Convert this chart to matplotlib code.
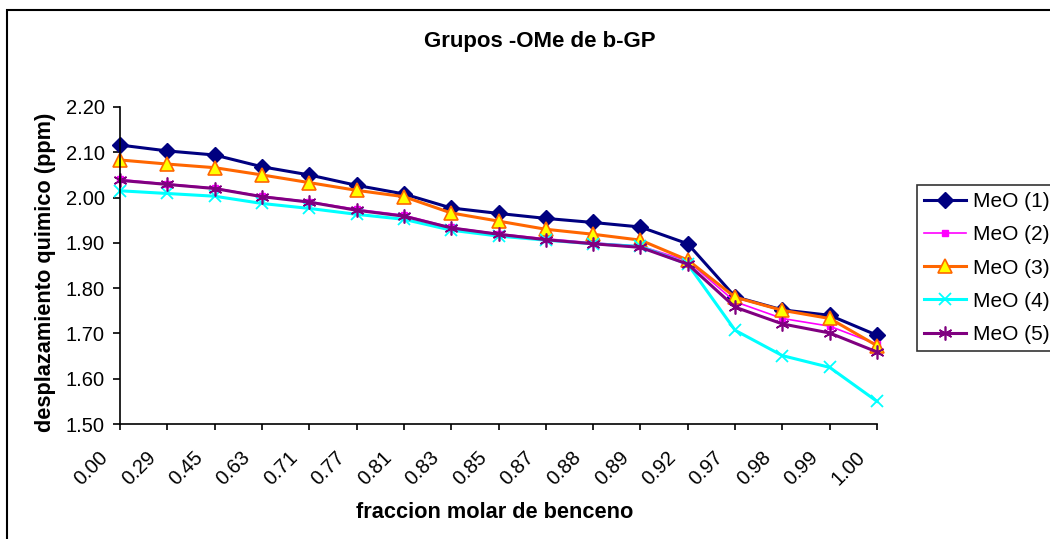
import matplotlib
matplotlib.use("Agg")
import matplotlib.pyplot as plt
from matplotlib.patches import Rectangle
from matplotlib.transforms import ScaledTranslation

plt.rcParams['font.family'] = ['Liberation Sans', 'DejaVu Sans']

# fracciones molares de benceno (categorias)
categorias = ['0.00', '0.29', '0.45', '0.63', '0.71', '0.77', '0.81', '0.83', '0.85',
              '0.87', '0.88', '0.89', '0.92', '0.97', '0.98', '0.99', '1.00']

meo1 = [2.116, 2.103, 2.094, 2.068, 2.050, 2.027, 2.008, 1.977, 1.965,
        1.954, 1.945, 1.935, 1.898, 1.781, 1.752, 1.740, 1.696]
meo2 = [2.040, 2.030, 2.021, 2.003, 1.991, 1.974, 1.961, 1.934, 1.920,
        1.909, 1.900, 1.893, 1.860, 1.770, 1.733, 1.716, 1.676]
meo3 = [2.083, 2.074, 2.066, 2.050, 2.033, 2.016, 2.002, 1.966, 1.948,
        1.930, 1.919, 1.906, 1.862, 1.780, 1.751, 1.733, 1.673]
meo4 = [2.015, 2.009, 2.003, 1.987, 1.976, 1.963, 1.952, 1.928, 1.915,
        1.906, 1.898, 1.892, 1.853, 1.707, 1.651, 1.625, 1.550]
meo5 = [2.038, 2.029, 2.020, 2.002, 1.990, 1.972, 1.959, 1.933, 1.919,
        1.907, 1.898, 1.890, 1.853, 1.758, 1.721, 1.701, 1.659]

W, H = 1050, 539
fig = plt.figure(figsize=(W / 100, H / 100), dpi=100)
ax = fig.add_axes([120 / W, 1 - 424 / H, 757 / W, 317 / H])

x = list(range(len(categorias)))
ax.plot(x, meo1, color='#000080', lw=2.2, marker='D', ms=8.5,
        mfc='#000080', mec='#000080', label='MeO (1)', clip_on=False)
ax.plot(x, meo2, color='#FF00FF', lw=1.2, marker='s', ms=5,
        mfc='#FF00FF', mec='#FF00FF', label='MeO (2)', clip_on=False)
ax.plot(x, meo3, color='#FF6600', lw=2.2, marker='^', ms=10,
        mfc='#FFFF00', mec='#FF6600', mew=1.2, label='MeO (3)', clip_on=False)
ax.plot(x, meo4, color='#00FFFF', lw=2.2, marker='x', ms=9,
        mew=1.3, label='MeO (4)', clip_on=False)
ax.plot(x, meo5, color='#800080', lw=2.2, marker=(6, 2, 0), ms=10,
        mew=1.2, label='MeO (5)', clip_on=False)

ax.set_xlim(0, len(categorias) - 1)
ax.set_ylim(1.5, 2.2)
ax.set_yticks([1.5 + 0.1 * i for i in range(8)])
ax.set_yticklabels(['%.2f' % (1.5 + 0.1 * i) for i in range(8)])
ax.set_xticks(x)
ax.set_xticklabels(categorias, rotation=45, ha='right', va='top')

for s in ['top', 'right']:
    ax.spines[s].set_visible(False)
for s in ['left', 'bottom']:
    ax.spines[s].set_linewidth(1.2)
ax.tick_params(axis='y', direction='out', length=5, width=1.2, pad=6, labelsize=14.5)
ax.tick_params(axis='x', direction='out', length=4, width=1.2, pad=13, labelsize=14.5)
shift = ScaledTranslation(-0.08, 0, fig.dpi_scale_trans)
for lab in ax.get_xticklabels():
    lab.set_transform(lab.get_transform() + shift)

fig.text(540 / W, 1 - 41 / H, 'Grupos -OMe de b-GP', ha='center', va='center',
         fontsize=16, fontweight='bold')
fig.text(495 / W, 1 - 512 / H, 'fraccion molar de benceno', ha='center', va='center',
         fontsize=15.7, fontweight='bold')
fig.text(46 / W, 1 - 272 / H, 'desplazamiento quimico (ppm)', ha='center', va='center',
         rotation=90, fontsize=15.7, fontweight='bold')

leg = fig.legend(loc='upper left', bbox_to_anchor=(917 / W, 1 - 185 / H),
                 bbox_transform=fig.transFigure, fontsize=15, frameon=True,
                 fancybox=False, borderaxespad=0, borderpad=0.35,
                 handlelength=2.0, handletextpad=0.35, labelspacing=0.68)
leg.get_frame().set_edgecolor('black')
leg.get_frame().set_linewidth(1.2)

# borde del area del grafico
fig.add_artist(Rectangle((7 / W, -0.1), 1.2, 1.1 - 10 / H, transform=fig.transFigure,
                         fill=False, edgecolor='black', lw=1.5))

fig.savefig('out.png', dpi=100)
